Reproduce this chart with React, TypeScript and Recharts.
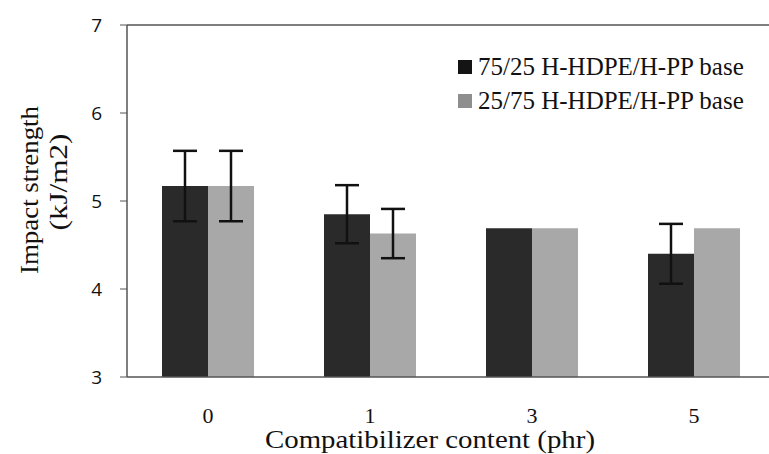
import { BarChart, Bar, XAxis, YAxis, ErrorBar, ReferenceLine, Label } from 'recharts'

const categories = ['0', '1', '3', '5']
const base7525 = [5.17, 4.85, 4.69, 4.4]
const err7525 = [0.4, 0.33, null, 0.34]
const base2575 = [5.17, 4.63, 4.69, 4.69]
const err2575 = [0.4, 0.28, null, null]
const yTicks = [3, 4, 5, 6, 7]

const SERIES = [
  { key: 'a', name: '75/25 H-HDPE/H-PP base', fill: '#2a2a2a', swatch: '#141414' },
  { key: 'b', name: '25/75 H-HDPE/H-PP base', fill: '#a8a8a8', swatch: '#8e8e8e' },
]

const data = categories.map((c, i) => ({
  cat: c,
  a: base7525[i],
  aErr: err7525[i],
  b: base2575[i],
  bErr: err2575[i],
}))

const SERIF = '"Liberation Serif", "Times New Roman", serif'
const SANS = '"Open Sans", "Liberation Sans", sans-serif'

function LegendBox() {
  return (
    <div style={{ position: 'absolute', left: 458, top: 50, fontFamily: SERIF, fontSize: 25, color: '#111', lineHeight: '34px' }}>
      {SERIES.map(s => (
        <div key={s.key} style={{ display: 'flex', alignItems: 'center', whiteSpace: 'nowrap' }}>
          <span style={{ width: 14, height: 14, background: s.swatch, display: 'inline-block', marginRight: 6 }} />
          {s.name}
        </div>
      ))}
    </div>
  )
}

function YTitle() {
  return (
    <g fontFamily={SERIF} fontSize={26} fill="#111">
      <text x={29} y={190} textAnchor="middle" dominantBaseline="central" textLength={168} lengthAdjust="spacingAndGlyphs" transform="rotate(-90 29 190)">
        Impact strength
      </text>
      <text x={58} y={182} textAnchor="middle" dominantBaseline="central" textLength={97} lengthAdjust="spacingAndGlyphs" transform="rotate(-90 58 182)">
        (kJ/m2)
      </text>
    </g>
  )
}

function XTitle() {
  return (
    <text x={430} y={439} textAnchor="middle" dominantBaseline="central" fontFamily={SERIF} fontSize={25} fill="#111" textLength={330} lengthAdjust="spacingAndGlyphs">
      Compatibilizer content (phr)
    </text>
  )
}

export default function App() {
  return (
    <div style={{ width: 769, height: 454, overflow: 'hidden', position: 'absolute', left: 0, top: 0, background: '#fff' }}>
      <BarChart
        width={780}
        height={454}
        data={data}
        margin={{ top: 25, right: 5, bottom: 17, left: 0 }}
        barSize={46}
        barGap={0}
      >
        <XAxis
          dataKey="cat"
          height={60}
          tickLine={false}
          axisLine={{ stroke: '#555', strokeWidth: 1.5 }}
          tick={{ fontFamily: SERIF, fontSize: 22, fill: '#111' }}
          tickMargin={24}
        >
          <Label content={<XTitle />} />
        </XAxis>
        <YAxis
          width={127}
          domain={[3, 7]}
          ticks={yTicks}
          interval={0}
          axisLine={{ stroke: '#555', strokeWidth: 1.5 }}
          tickLine={{ stroke: '#555' }}
          tickSize={7}
          tickMargin={18}
          tick={{ fontFamily: SANS, fontSize: 19, fill: '#111' }}
        >
          <Label content={<YTitle />} />
        </YAxis>
        <ReferenceLine y={7} stroke="#555" strokeWidth={1.5} />
        {SERIES.map(s => (
          <Bar key={s.key} dataKey={s.key} name={s.name} fill={s.fill} isAnimationActive={false}>
            <ErrorBar dataKey={s.key + 'Err'} width={12} stroke="#111" strokeWidth={2.5} />
          </Bar>
        ))}
      </BarChart>
      <LegendBox />
    </div>
  )
}
